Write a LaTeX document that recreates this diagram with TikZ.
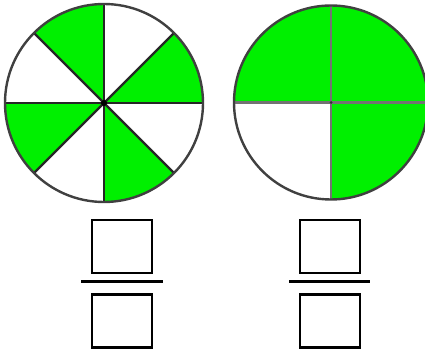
\documentclass[tikz,border=0pt]{standalone}
\begin{document}
\begin{tikzpicture}[x=1pt,y=1pt,
  fillg/.style={fill=lime},
  rim/.style={draw=black!75,line width=2.4pt},
  spoke/.style={draw=black!85,line width=2.4pt},
  spokeg/.style={draw=black!55,line width=2.4pt},
  ansbox/.style={draw=black,line width=2.5pt,minimum width=60pt,minimum height=53pt,inner sep=0pt},
  bar/.style={draw=black,line width=2.6pt}]
\definecolor{lime}{RGB}{0,240,0}
\useasboundingbox (0,0) rectangle (425,350);
% left circle
\coordinate (c1) at (104,247);
\foreach \a in {0,90,180,270}{
  \fill[fillg] (c1) -- ++(\a:99) arc[start angle=\a,end angle=\a+45,radius=99] -- cycle;
}
\foreach \a in {0,45,...,315}{
  \draw[spoke] (c1) -- ++(\a:99);
}
\draw[rim] (c1) circle[radius=99];
\fill[black] (c1) circle[radius=3];
% right circle
\coordinate (c2) at (331,247.5);
\foreach \a in {0,90,270}{
  \fill[fillg] (c2) -- ++(\a:97) arc[start angle=\a,end angle=\a+90,radius=97] -- cycle;
}
\foreach \a in {0,90,180,270}{
  \draw[spokeg] (c2) -- ++(\a:97);
}
\draw[rim] (c2) circle[radius=97];
\fill[black!80] (c2) circle[radius=1.5];
% fraction boxes
\node[ansbox] (n1) at (122,103.5) {};
\node[ansbox] (d1) at (122,29) {};
\coordinate (l1a) at (81,68.3);
\coordinate (l1b) at (162.7,68.3);
\draw[bar] (l1a) -- (l1b);
\node[ansbox] (n2) at (330,103.5) {};
\node[ansbox] (d2) at (330,29) {};
\coordinate (l2a) at (289,68.3);
\coordinate (l2b) at (370.3,68.3);
\draw[bar] (l2a) -- (l2b);
\end{tikzpicture}
\end{document}
